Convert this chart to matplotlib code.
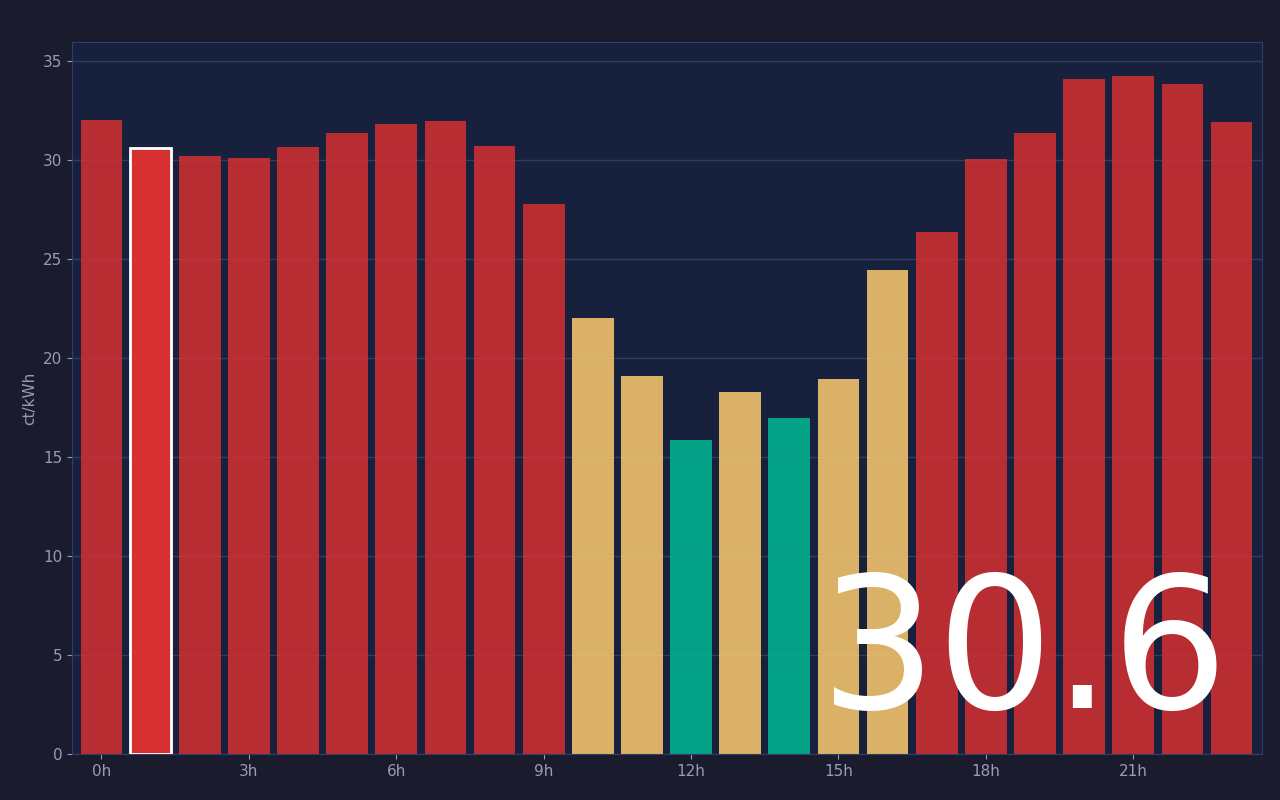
import matplotlib
matplotlib.use("Agg")
import matplotlib.pyplot as plt

# Strompreis pro Stunde (ct/kWh)
hours = list(range(24))
prices = [32.0, 30.6, 30.2, 30.1, 30.65, 31.35, 31.8, 31.95, 30.7, 27.8,
          22.0, 19.1, 15.85, 18.3, 16.95, 18.95, 24.45, 26.35, 30.05, 31.35,
          34.1, 34.25, 33.85, 31.9]
tick_hours = [0, 3, 6, 9, 12, 15, 18, 21]
tick_labels = ["0h", "3h", "6h", "9h", "12h", "15h", "18h", "21h"]
current_hour = 1
current_label = "30.6"


def farbe(p):
    if p < 18:
        return "#00b894"
    if p < 25:
        return "#fdcb6e"
    return "#d63031"


fig = plt.figure(figsize=(12.8, 8), dpi=100, facecolor="#1b1b2e")
ax = fig.add_axes([0.05625, 0.0575, 0.9297, 0.89])
ax.set_facecolor("#17213e")

farben = [farbe(p) for p in prices]
ax.bar(hours, prices, width=0.85, color=farben, alpha=0.85, zorder=2)
ax.bar(current_hour, prices[current_hour], width=0.85, color="#d63031",
       edgecolor="white", linewidth=2, zorder=3)

ax.grid(axis="y", color="#2e3d62", linewidth=1, zorder=1)
ax.set_axisbelow(True)
ax.set_xlim(-0.6, 23.62)
ax.set_ylim(0, 35.96)
ax.set_xticks(tick_hours)
ax.set_xticklabels(tick_labels)
ax.set_ylabel("ct/kWh", color="#9a9ab8", fontsize=11)
ax.tick_params(colors="#9a9ab8", labelsize=11)
for s in ax.spines.values():
    s.set_color("#2e4068")

ax.text(0.971, 0.011, current_label, transform=ax.transAxes, ha="right",
        va="bottom", fontsize=132, color="white", zorder=5)

fig.savefig("out.png", dpi=100, facecolor=fig.get_facecolor())
